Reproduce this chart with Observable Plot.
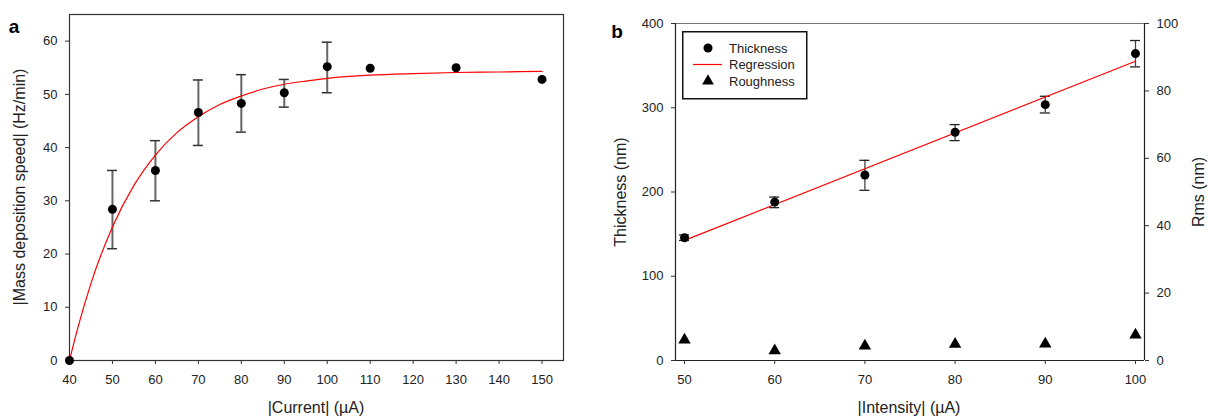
<!DOCTYPE html>
<html>
<head>
<meta charset="utf-8">
<script src="https://cdn.jsdelivr.net/npm/d3@7"></script>
<script src="https://cdn.jsdelivr.net/npm/@observablehq/plot@0.6"></script>
<style>
  html, body { margin: 0; padding: 0; background: #fff; }
  #root { position: relative; width: 1208px; height: 417px; overflow: hidden;
          font-family: "Liberation Sans", Arial, sans-serif; color: #222; }
  .panel { position: absolute; top: 0; }
  .t { position: absolute; white-space: nowrap; font-size: 16px; transform: translate(-50%, -50%); }
  .rot { transform: translate(-50%, -50%) rotate(-90deg); }
  .lab { position: absolute; font-weight: bold; font-size: 19px; transform: translate(-50%, -50%); color: #000; }
  #legend { position: absolute; left: 682px; top: 31px; }
</style>
</head>
<body>
<div id="root">
  <div class="panel" id="pa" style="left:0px"></div>
  <div class="panel" id="pb" style="left:600px"></div>
  <div class="lab" style="left:14px; top:27px">a</div>
  <div class="lab" style="left:617px; top:32px">b</div>
  <div class="t" style="left:316px; top:408px">|Current| (µA)</div>
  <div class="t rot" style="left:20px; top:187px">|Mass deposition speed| (Hz/min)</div>
  <div class="t" style="left:909px; top:408px">|Intensity| (µA)</div>
  <div class="t rot" style="left:621px; top:192px">Thickness (nm)</div>
  <div class="t rot" style="left:1199px; top:192px">Rms (nm)</div>
  <div id="legend"></div>
</div>
<script>
// ---------- Panel a data ----------
const currentA = [40, 50, 60, 70, 80, 90, 100, 110, 130, 150];
const speedA   = [0, 28.4, 35.7, 46.6, 48.3, 50.3, 55.2, 54.9, 55.0, 52.8];
const errLowA  = [null, 21.0, 30.0, 40.4, 42.9, 47.6, 50.3, null, null, null];
const errHighA = [null, 35.7, 41.3, 52.7, 53.7, 52.8, 59.8, null, null, null];
const fitCurrentA = [40, 42, 45, 50, 55, 60, 65, 70, 75, 80, 85, 90, 95, 100, 110, 120, 130, 140, 150];
const fitSpeedA   = [0, 6.3, 14.5, 25.1, 32.9, 38.6, 42.8, 45.8, 48.1, 49.7, 51.0, 51.9, 52.5, 53.0, 53.6, 53.9, 54.1, 54.2, 54.3];
const xTicksA = [40, 50, 60, 70, 80, 90, 100, 110, 120, 130, 140, 150];
const yTicksA = [0, 10, 20, 30, 40, 50, 60];

// ---------- Panel b data ----------
const intensityB = [50, 60, 70, 80, 90, 100];
const thicknessB = [145.7, 188, 220.2, 270.9, 303.7, 364.3];
const thickLowB  = [142.5, 181.4, 202, 261, 293.8, 348.5];
const thickHighB = [149, 194, 237.6, 280, 313.6, 379.8];
const roughnessB = [6.1, 2.9, 4.3, 4.85, 4.9, 7.6];
const regIntensityB = [50, 100];
const regThicknessB = [142.6, 355.2];
const xTicksB = [50, 60, 70, 80, 90, 100];
const yTicksB = [0, 100, 200, 300, 400];
const rmsTicksB = [0, 20, 40, 60, 80, 100];
const thickMax = 400, rmsMax = 100;
const rmsToThick = thickMax / rmsMax;

const font = '"Liberation Sans", Arial, sans-serif';

const ptsA = currentA.map((x, i) => ({x, y: speedA[i], lo: errLowA[i], hi: errHighA[i]}));
const errA = ptsA.filter(d => d.lo != null);
const fitA = fitCurrentA.map((x, i) => ({x, y: fitSpeedA[i]}));

const plotA = Plot.plot({
  width: 600, height: 417,
  marginLeft: 69, marginRight: 37, marginTop: 14, marginBottom: 57,
  style: {fontFamily: font, fontSize: "13px", color: "#222", background: "transparent"},
  x: {domain: [40, 155], label: null},
  y: {domain: [0, 65], label: null},
  marks: [
    Plot.frame({stroke: "#333", strokeWidth: 1.2}),
    Plot.axisX({ticks: xTicksA, tickSize: 4, tickPadding: 10, label: null, stroke: "#333"}),
    Plot.axisY({ticks: yTicksA, tickSize: 4, tickPadding: 8, label: null, stroke: "#333"}),
    Plot.ruleX(errA, {x: "x", y1: "lo", y2: "hi", stroke: "#666", strokeWidth: 2}),
    Plot.ruleY(errA, {x1: "x", x2: "x", y: "lo", insetLeft: -5, insetRight: -5, stroke: "#333", strokeWidth: 1.5}),
    Plot.ruleY(errA, {x1: "x", x2: "x", y: "hi", insetLeft: -5, insetRight: -5, stroke: "#333", strokeWidth: 1.5}),
    Plot.line(fitA, {x: "x", y: "y", stroke: "#ff0000", strokeWidth: 1.2, curve: "monotone-x"}),
    Plot.dot(ptsA, {x: "x", y: "y", r: 4.5, fill: "#000", stroke: "none"})
  ]
});
document.getElementById("pa").appendChild(plotA);

const ptsB = intensityB.map((x, i) => ({x, y: thicknessB[i], lo: thickLowB[i], hi: thickHighB[i], rms: roughnessB[i]}));
const regB = regIntensityB.map((x, i) => ({x, y: regThicknessB[i]}));

const plotB = Plot.plot({
  width: 608, height: 417,
  marginLeft: 75, marginRight: 64, marginTop: 23, marginBottom: 57,
  style: {fontFamily: font, fontSize: "13px", color: "#222", background: "transparent"},
  x: {domain: [49, 101], label: null},
  y: {domain: [0, thickMax], label: null},
  marks: [
    Plot.ruleY([thickMax], {stroke: "#777", strokeWidth: 1.2}),
    Plot.ruleY([0], {stroke: "#222", strokeWidth: 1.2}),
    Plot.ruleX([49, 101], {stroke: "#222", strokeWidth: 1.2}),
    Plot.axisX({ticks: xTicksB, tickSize: 4, tickPadding: 10, label: null, stroke: "#333"}),
    Plot.axisY({ticks: yTicksB, tickSize: 4, tickPadding: 8, label: null, stroke: "#333"}),
    Plot.axisY({anchor: "right", ticks: rmsTicksB.map(v => v * rmsToThick), tickFormat: d => d / rmsToThick,
                tickSize: 4, tickPadding: 8, label: null, stroke: "#333"}),
    Plot.ruleX(ptsB, {x: "x", y1: "lo", y2: "hi", stroke: "#444", strokeWidth: 1.3}),
    Plot.ruleY(ptsB, {x1: "x", x2: "x", y: "lo", insetLeft: -5, insetRight: -5, stroke: "#222", strokeWidth: 1.3}),
    Plot.ruleY(ptsB, {x1: "x", x2: "x", y: "hi", insetLeft: -5, insetRight: -5, stroke: "#222", strokeWidth: 1.3}),
    Plot.line(regB, {x: "x", y: "y", stroke: "#ff0000", strokeWidth: 1.2}),
    Plot.dot(ptsB, {x: "x", y: "y", r: 4.5, fill: "#000", stroke: "none"}),
    Plot.dot(ptsB, {x: "x", y: d => d.rms * rmsToThick, symbol: "triangle", r: 4.6, fill: "#000", stroke: "none"})
  ]
});
document.getElementById("pb").appendChild(plotB);

// ---------- Legend ----------
const legendItems = ["Thickness", "Regression", "Roughness"];
const lg = d3.select("#legend").append("svg").attr("width", 126).attr("height", 69)
  .style("font-family", font).style("font-size", "13px").style("overflow", "visible");
lg.append("rect").attr("x", 0.75).attr("y", 0.75).attr("width", 124).attr("height", 67)
  .attr("fill", "#fff").attr("stroke", "#111").attr("stroke-width", 1.5);
lg.append("circle").attr("cx", 26).attr("cy", 17).attr("r", 4.5).attr("fill", "#000");
lg.append("line").attr("x1", 11).attr("x2", 40).attr("y1", 33.5).attr("y2", 33.5).attr("stroke", "#ff0000").attr("stroke-width", 1.2);
lg.append("path").attr("transform", "translate(26,50)").attr("d", d3.symbol(d3.symbolTriangle, 60)()).attr("fill", "#000");
legendItems.forEach((t, i) => {
  lg.append("text").attr("x", 47).attr("y", 17 + i * 16.5).attr("dy", "0.35em").attr("fill", "#222").text(t);
});
</script>
</body>
</html>
